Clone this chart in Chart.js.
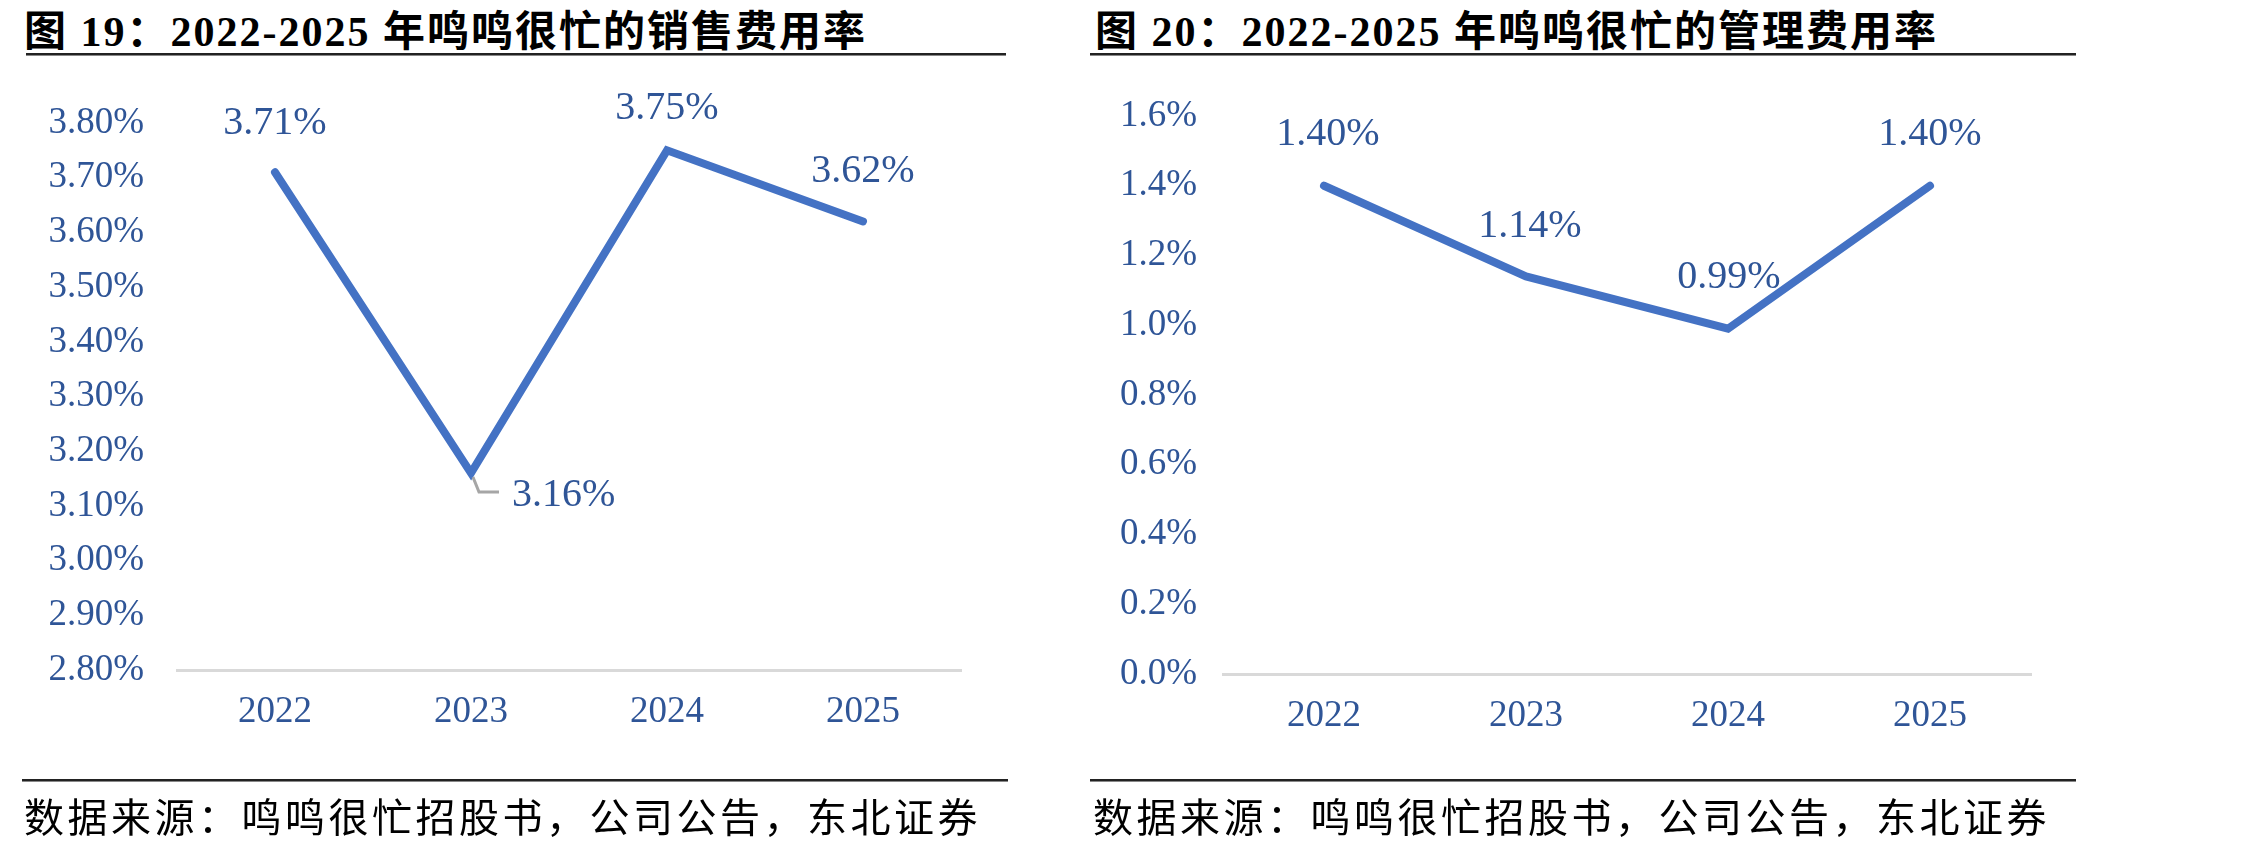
<!DOCTYPE html>
<html>
<head>
<meta charset="utf-8">
<script src="https://cdn.jsdelivr.net/npm/chart.js@4.4.1/dist/chart.umd.min.js"></script>
<style>
    body { margin: 0; background: #fff; width: 2268px; height: 846px; overflow: hidden; position: relative; }
    .title { position: absolute; top: -3px; font: bold 42px "Liberation Serif", "Noto Sans CJK SC"; letter-spacing: 2px; color: #000; white-space: nowrap; }
    .rule { position: absolute; height: 0; border-top: 2px solid #222; border-bottom: 1px solid #888; }
    .source { position: absolute; top: 786px; font: 40px "Noto Sans CJK SC"; letter-spacing: 3.5px; color: #000; white-space: nowrap; }
    canvas { position: absolute; top: 0; }
</style>
</head>
<body>
<div class="title" style="left:24px">图 19：2022-2025 年鸣鸣很忙的销售费用率</div>
<div class="rule" style="left:26px; width:980px; top:53px"></div>
<canvas id="sellingChart" style="left:0; width:1010px; height:780px" width="1010" height="780"></canvas>
<div class="rule" style="left:22px; width:986px; top:779px"></div>
<div class="source" style="left:24px">数据来源：鸣鸣很忙招股书，公司公告，东北证券</div>

<div class="title" style="left:1095px">图 20：2022-2025 年鸣鸣很忙的管理费用率</div>
<div class="rule" style="left:1090px; width:986px; top:53px"></div>
<canvas id="adminChart" style="left:1040px; width:1040px; height:780px" width="1040" height="780"></canvas>
<div class="rule" style="left:1090px; width:986px; top:779px"></div>
<div class="source" style="left:1093px">数据来源：鸣鸣很忙招股书，公司公告，东北证券</div>

<script>
const years = ["2022", "2023", "2024", "2025"];
const sellingRate = [3.71, 3.16, 3.75, 3.62];   // 销售费用率 %
const adminRate = [1.40, 1.14, 0.99, 1.40];     // 管理费用率 %

const LINE_BLUE = "#4472C4";
const TEXT_BLUE = "#2F5597";
const SERIF = "'Liberation Serif', 'Times New Roman', serif";

// draws value labels next to each point (no datalabels plugin offline)
const pointLabels = {
    id: "pointLabels",
    afterDatasetsDraw(chart, args, opts) {
        const ctx = chart.ctx;
        const meta = chart.getDatasetMeta(0);
        const values = chart.data.datasets[0].data;
        ctx.save();
        ctx.font = "40px " + SERIF;
        ctx.fillStyle = TEXT_BLUE;
        ctx.textBaseline = "middle";
        meta.data.forEach((pt, i) => {
            const off = opts.offsets[i];
            const text = values[i].toFixed(2) + "%";
            if (off.leader) {
                ctx.strokeStyle = "#A6A6A6";
                ctx.lineWidth = 3;
                ctx.beginPath();
                ctx.moveTo(pt.x + off.leader[0][0], pt.y + off.leader[0][1]);
                off.leader.slice(1).forEach(p => ctx.lineTo(pt.x + p[0], pt.y + p[1]));
                ctx.stroke();
            }
            ctx.textAlign = off.align || "center";
            ctx.fillText(text, pt.x + off.dx, pt.y + off.dy);
        });
        ctx.restore();
    }
};

function makeChart(id, values, yMin, yMax, step, decimals, axisWidth, pad, offsets) {
    const ctx = document.getElementById(id).getContext("2d");
    return new Chart(ctx, {
        type: "line",
        data: {
            labels: years,
            datasets: [{
                data: values,
                borderColor: LINE_BLUE,
                borderWidth: 8,
                borderCapStyle: "round",
                borderJoinStyle: "miter",
                pointRadius: 0,
                tension: 0,
                clip: false
            }]
        },
        options: {
            responsive: false,
            animation: false,
            layout: { padding: pad },
            plugins: {
                legend: { display: false },
                tooltip: { enabled: false },
                pointLabels: { offsets: offsets }
            },
            scales: {
                x: {
                    offset: true,
                    grid: { display: false, drawTicks: false },
                    border: { display: true, color: "#D9D9D9", width: 3 },
                    ticks: { color: TEXT_BLUE, font: { family: SERIF, size: 37 }, padding: 20 },
                    afterFit: (scale) => { scale.height = 80; }
                },
                y: {
                    min: yMin,
                    max: yMax,
                    grid: { display: false, drawTicks: false },
                    border: { display: false },
                    ticks: {
                        stepSize: step,
                        color: TEXT_BLUE,
                        font: { family: SERIF, size: 37 },
                        padding: pad.tickPad,
                        callback: (v) => v.toFixed(decimals) + "%"
                    },
                    afterFit: (scale) => { scale.width = axisWidth; }
                }
            }
        },
        plugins: [pointLabels]
    });
}

makeChart("sellingChart", sellingRate, 2.8, 3.8, 0.1, 2, 177,
    { top: 123, bottom: 30, left: 0, right: 49, tickPad: 33 },
    [
        { dx: 0, dy: -49 },
        { dx: 41, dy: 22, align: "left", leader: [[2, 4], [8, 19], [28, 19]] },
        { dx: 0, dy: -42 },
        { dx: 0, dy: -50 }
    ]);

makeChart("adminChart", adminRate, 0, 1.6, 0.2, 1, 183,
    { top: 116, bottom: 26, left: 0, right: 49, tickPad: 26 },
    [
        { dx: 4, dy: -51 },
        { dx: 4, dy: -50 },
        { dx: 1, dy: -51 },
        { dx: 0, dy: -51 }
    ]);
</script>
</body>
</html>
